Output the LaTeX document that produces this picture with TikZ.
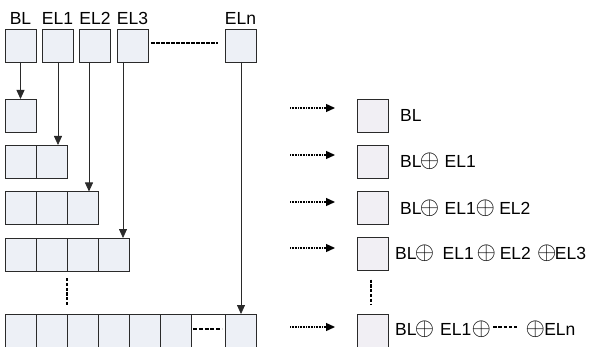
\documentclass[tikz,border=0pt]{standalone}
\usepackage{fontspec}
\setmainfont{Liberation Sans}
\usetikzlibrary{arrows.meta}

\definecolor{cellfill}{HTML}{EDF0F6}
\definecolor{resfill}{HTML}{F1EFF4}
\definecolor{edge}{HTML}{2A2A2A}

% short run of dashes used inside a label
\newcommand\dashbit{\rule[7pt]{3.4pt}{2pt}\hspace{1.8pt}}
\newcommand\dashrun{\dashbit\dashbit\dashbit\dashbit\dashbit}
% enlarged circled plus
\newcommand\xop{\makebox[16pt]{\fontsize{24}{24}\selectfont$\oplus$}}

\begin{document}
\begin{tikzpicture}[x=1pt,y=-1pt,
  cell/.style={draw=edge, line width=0.9pt, fill=cellfill,
    minimum width=31pt, minimum height=33pt, inner sep=0pt, outer sep=0pt},
  res/.style={cell, fill=resfill},
  lab/.style={font=\fontsize{17.5}{20}\selectfont, inner sep=0pt},
  feed/.style={draw=edge, line width=0.8pt, -{Triangle[length=9pt,width=8pt]}},
  dots/.style={draw=black, line width=2pt, dash pattern=on 3.5pt off 1.5pt},
  pipe/.style={draw=black, line width=1.3pt, dash pattern=on 1pt off 0.6pt,
    -{Triangle[length=9pt,width=8pt]}}
]
\useasboundingbox (0,0) rectangle (593,347);

% top row of blocks
\node[cell] (BL)  at (20.5,45.5)  {};
\node[cell] (EL1) at (57.5,45.5)  {};
\node[cell] (EL2) at (95,45.5)    {};
\node[cell] (EL3) at (132.5,45.5) {};
\node[cell] (ELn) at (240.5,45.5) {};
\foreach \b/\t in {BL/BL, EL1/EL1, EL2/EL2, EL3/EL3, ELn/ELn}
  \node[lab, anchor=base] (t\b) at ([yshift=4pt]\b.north) {\t};
\draw[dots] ([xshift=3pt,yshift=2.5pt]EL3.east) -- ([xshift=-7pt,yshift=2.5pt]ELn.west);

% growing chains
\foreach \r/\y/\n in {1/115.5/1, 2/161.5/2, 3/208/3, 4/254.5/4}
  \foreach \c in {1,...,\n}
    \node[cell] (r\r-\c) at ({20.5+31*(\c-1)},\y) {};
\foreach \c in {1,...,6}
  \node[cell] (r5-\c) at ({20.5+31*(\c-1)},330.5) {};
\node[cell, fill=white, minimum width=34pt] (r5-7) at (208,330.5) {};
\node[cell] (r5-8) at (240.5,330.5) {};
\draw[line width=1.8pt, dash pattern=on 4pt off 1.8pt]
  ([xshift=-15pt,yshift=1.5pt]r5-7.center) -- ([xshift=14pt,yshift=1.5pt]r5-7.center);
\draw[line width=2.4pt, dash pattern=on 3.2pt off 1.6pt]
  ([yshift=-7pt]r4-2.south east) -- ([yshift=8pt]r5-2.north east);

% feeds from the top blocks
\draw[feed] (BL.south) -- (r1-1.north);
\draw[feed] ([xshift=0.5pt]EL1.south) -- ([xshift=6.5pt]r2-2.north);
\draw[feed] ([xshift=-6pt]EL2.south) -- ([xshift=6.5pt]r3-3.north);
\draw[feed] ([xshift=-9.5pt]EL3.south) -- ([xshift=9.5pt]r4-4.north);
\draw[feed] ([xshift=0.5pt]ELn.south) -- ([xshift=0.5pt]r5-8.north);

% results
\node[res] (R1) at (372.5,115.5) {};
\node[res] (R2) at (372.5,162)   {};
\node[res] (R3) at (372.5,208)   {};
\node[res] (R4) at (372.5,254)   {};
\node[res] (R5) at (372.5,331)   {};
\foreach \i/\s in {1/7.5, 2/7, 3/6, 4/6, 5/4} {
  \coordinate (p\i a) at ([xshift=-67pt,yshift=\s pt]R\i.west);
  \coordinate (p\i b) at ([xshift=-22pt,yshift=\s pt]R\i.west);
  \draw[pipe] (p\i a) -- (p\i b);
}
\draw[line width=2.4pt, dash pattern=on 3.2pt off 1.6pt]
  ([yshift=-9pt,xshift=-1.5pt]R4.south) -- ([yshift=10pt,xshift=-1.5pt]R5.north);

\node[lab, anchor=base west] (L1) at ([xshift=12pt,yshift=-6pt]R1.east) {BL};
\node[lab, anchor=base west] (L2) at ([xshift=12pt,yshift=-6pt]R2.east)
  {BL\xop\hspace{7pt}EL1};
\node[lab, anchor=base west] (L3) at ([xshift=12pt,yshift=-6pt]R3.east)
  {BL\xop\hspace{7pt}EL1\hspace{1.5pt}\xop\hspace{6pt}EL2};
\node[lab, anchor=base west] (L4) at ([xshift=7pt,yshift=-5pt]R4.east)
  {BL\xop\hspace{10pt}EL1\hspace{4.5pt}\xop\hspace{5.5pt}EL2\hspace{8pt}\xop EL3};
\node[lab, anchor=base west] (L5) at ([xshift=7pt,yshift=-4pt]R5.east)
  {BL\xop\hspace{7.5pt}EL1\hspace{2pt}\xop\hspace{4pt}\dashrun\hspace{8pt}\xop\hspace{1pt}ELn};
\end{tikzpicture}
\end{document}
